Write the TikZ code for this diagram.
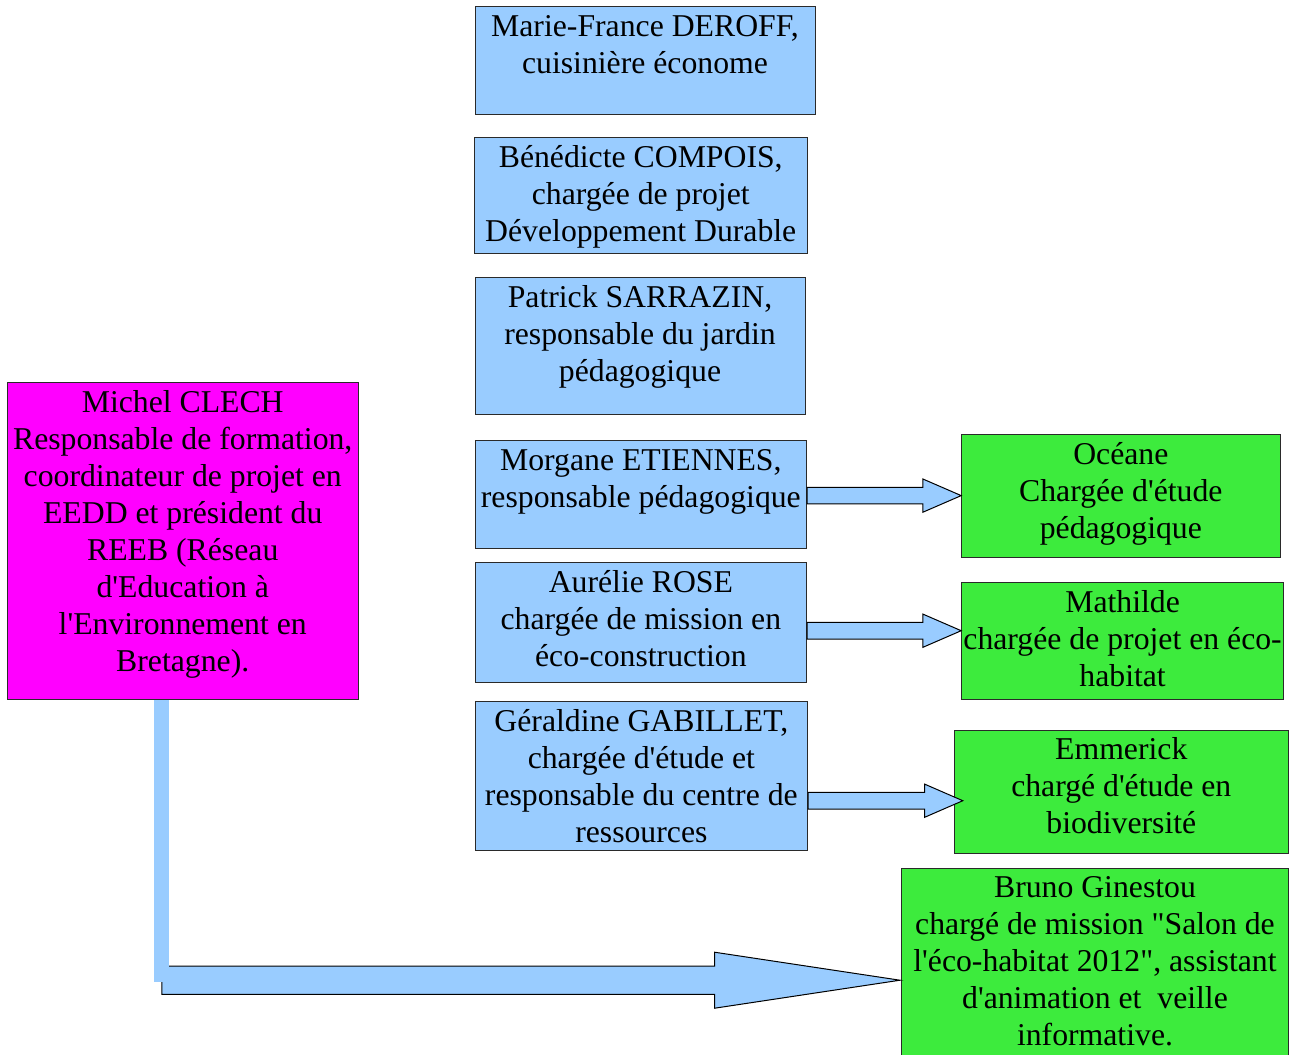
\documentclass[tikz,border=0pt]{standalone}
\usepackage{fontspec}
\setmainfont{Liberation Serif}[Ligatures=TeXOff]
\usetikzlibrary{calc}
\definecolor{lblue}{HTML}{99CCFF}
\definecolor{lgreen}{HTML}{3DEB3D}
\definecolor{lmag}{HTML}{FF00FF}
\definecolor{edge}{HTML}{2A2A2A}
\tikzset{
  boxbase/.style={draw=edge, line width=0.75pt, inner sep=0pt, rectangle},
  bluebox/.style={boxbase, fill=lblue},
  greenbox/.style={boxbase, fill=lgreen},
  magbox/.style={boxbase, fill=lmag},
  txt/.style={anchor=north, inner sep=0pt, align=center, text=black,
    font=\fontsize{23.8}{27.75}\selectfont},
  barrow/.style={draw=black, fill=lblue, line width=0.75pt, line join=miter},
  bar/.style={draw=lblue, line width=11.25pt}
}
% #1 name, #2 x1, #3 y1, #4 x2, #5 y2, #6 style, #7 text
\newcommand\obox[7]{%
  \node[#6, minimum width={(#4-#2)*0.75pt}, minimum height={(#5-#3)*0.75pt}] (#1) at ({(#2+#4)/2},{(#3+#5)/2}) {};
  \node[txt] (#1-t) at ({(#2+#4)/2},#3) {\rule{0pt}{22.2pt}#7};}
% #1 start, #2 tip, #3 y center, #4 half shaft, #5 half head, #6 head length
\newcommand\blockarrow[6]{%
  \draw[barrow] ($(#1|-0,#3)+(0,-#4)$) -- ($(#2|-0,#3)+(-#6,-#4)$) -- ($(#2|-0,#3)+(-#6,-#5)$)
    -- (#2|-0,#3) -- ($(#2|-0,#3)+(-#6,#5)$) -- ($(#2|-0,#3)+(-#6,#4)$) -- ($(#1|-0,#3)+(0,#4)$) -- cycle;}
\begin{document}
\begin{tikzpicture}[x=0.75pt,y=-0.75pt]
\useasboundingbox (0,0) rectangle (1292,1054);
\obox{mar}{475}{6.5}{815}{114}{bluebox}{Marie-France DEROFF,\\cuisinière économe}
\obox{ben}{474}{137.5}{807.5}{253.3}{bluebox}{Bénédicte COMPOIS,\\chargée de projet\\Développement Durable}
\obox{pat}{475}{277.7}{805}{414.3}{bluebox}{Patrick SARRAZIN,\\responsable du jardin\\pédagogique}
\obox{mor}{475}{440.7}{806.7}{548.3}{bluebox}{Morgane ETIENNES,\\responsable pédagogique}
\obox{aur}{475}{562.7}{806.7}{682.3}{bluebox}{Aurélie ROSE\\chargée de mission en\\éco-construction}
\obox{ger}{475}{701.7}{807.7}{850.7}{bluebox}{Géraldine GABILLET,\\chargée d'étude et\\responsable du centre de\\ressources}
\obox{mic}{7.5}{382.5}{358}{699.5}{magbox}{Michel CLECH\\Responsable de formation,\\coordinateur de projet en\\EEDD et président du\\REEB (Réseau\\d'Education à\\l'Environnement en\\Bretagne).}
\obox{oce}{961.7}{434.5}{1280}{557.7}{greenbox}{Océane\\Chargée d'étude\\pédagogique}
\obox{mat}{961.7}{582.7}{1283.5}{699}{greenbox}{Mathilde\\chargée de projet en éco-\\habitat}
\obox{emm}{954.3}{730}{1288.3}{853.3}{greenbox}{Emmerick\\chargé d'étude en\\biodiversité}
\obox{bru}{901.5}{868}{1288.5}{1075}{greenbox}{Bruno Ginestou\\chargé de mission "Salon de\\l'éco-habitat 2012", assistant\\d'animation et~ veille\\informative.}
% block arrows
\coordinate (emmtip) at ($(emm.west)+(9,0)$);
\blockarrow{mor.east}{oce.west}{495.6}{8.35}{16.65}{38.4}
\blockarrow{aur.east}{mat.west}{630.7}{8.35}{16.65}{38.4}
\blockarrow{ger.east}{emmtip}{800.7}{8.35}{16.65}{38.3}
% bottom connector
\coordinate (elbow) at (161.8,980.2);
\coordinate (brutip) at ($(bru.west)+(-1,0)$);
\blockarrow{elbow}{brutip}{980.2}{14.1}{28}{185.4}
\draw[bar] (mic.south -| elbow) -- ($(elbow)+(0,1.5)$);
\end{tikzpicture}
\end{document}
